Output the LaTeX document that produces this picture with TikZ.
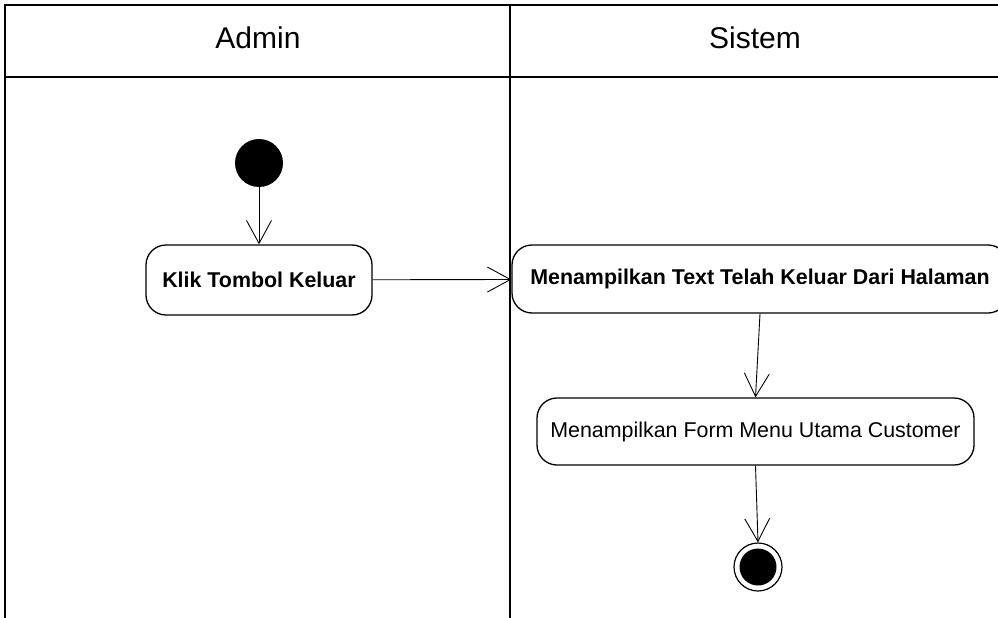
\documentclass[tikz,border=0pt]{standalone}
\usepackage{fontspec}
\setmainfont{Liberation Sans}
\usetikzlibrary{arrows.meta}
\begin{document}
\begin{tikzpicture}[x=1pt,y=-1pt,
  lane/.style={line width=1.4pt},
  action/.style={draw, line width=1.3pt, rounded corners=20pt, inner sep=0pt,
    font=\fontsize{21.4}{24}\selectfont, align=center},
  boldaction/.style={action, font=\fontsize{21.4}{24}\selectfont\bfseries},
  flow/.style={line width=0.9pt, -{Straight Barb[length=23pt,width=25pt,line width=0.9pt]}},
  laneTitle/.style={font=\fontsize{30}{33}\selectfont}]
\useasboundingbox (0,0) rectangle (998,618);
% swimlane frame
\draw[lane] (5,618) -- (5,5) -- (1002,5);
\draw[lane] (5,77) -- (1002,77);
\draw[lane] (510,5) -- (510,618);
\node[laneTitle] (tA) at (258,38) {Admin};
\node[laneTitle] (tS) at (755,38) {Sistem};
% initial and final states
\node[circle, fill=black, minimum size=48pt, inner sep=0pt] (start) at (259,163) {};
\node[circle, draw, line width=1.2pt, minimum size=48pt, inner sep=0pt] (stop) at (758,567) {};
\node[circle, fill=black, minimum size=37pt, inner sep=0pt] (stopDot) at (758,567) {};
% actions
\node[boldaction, minimum width=226pt, minimum height=70pt] (klik) at (259,280) {Klik Tombol Keluar};
\node[boldaction, minimum width=496pt, minimum height=68pt] (teks) at (760,279) {Menampilkan Text Telah Keluar Dari Halaman};
\node[action, minimum width=437pt, minimum height=67pt] (form) at (755.5,431.5) {Menampilkan Form Menu Utama Customer};
% transitions
\draw[flow] (start) -- (klik);
\draw[flow] (klik) -- (teks);
\draw[flow] (teks.south) -- (form.north);
\draw[flow] (form.south) -- (stop.north);
\end{tikzpicture}
\end{document}
